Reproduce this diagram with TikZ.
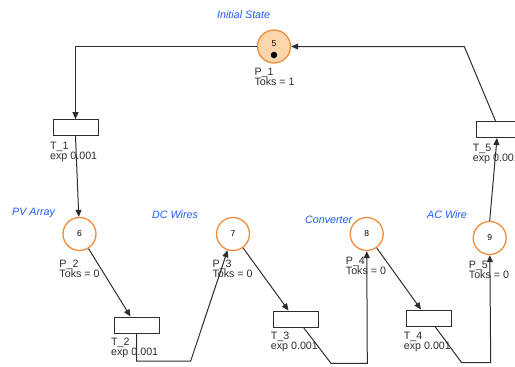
\documentclass[tikz,border=0pt]{standalone}
\usepackage{fontspec}
\setmainfont{Liberation Sans}
\usetikzlibrary{
  arrows.meta,
  positioning
}
\definecolor{placeorange}{RGB}{240,140,60}
\definecolor{tokfill}{RGB}{252,214,170}
\definecolor{noteblue}{RGB}{30,90,255}
\definecolor{arcgray}{RGB}{45,45,45}
\tikzset{
  place/.style={circle,draw=placeorange,line width=1.3pt,fill=white,
    minimum size=33pt,inner sep=0pt,font=\fontsize{8.5}{9}\selectfont},
  marked/.style={place,fill=tokfill},
  trans/.style={rectangle,draw=arcgray,line width=1pt,fill=white,
    minimum width=45pt,minimum height=16pt,inner sep=0pt},
  info/.style={anchor=north west,align=left,inner sep=0pt,
    font=\fontsize{10.7}{10}\selectfont,text=arcgray},
  note/.style={anchor=west,inner sep=0pt,
    font=\fontsize{10.7}{12}\selectfont\itshape,text=noteblue},
  arc/.style={-{Triangle[length=7pt,width=6pt]},line width=1pt,draw=arcgray},
  token/.style={circle,fill=black,minimum size=6.5pt,inner sep=0pt},
  num/.style={inner sep=0pt,font=\fontsize{8.5}{9}\selectfont}
}
\begin{document}
\begin{tikzpicture}[x=1pt,y=-1pt]
  \useasboundingbox (0,0) rectangle (515,367);
  \clip (0,0) rectangle (515,367);
  % places
  \node[marked] (p1) at (274,46.5) {};
  \node[num] (n1) at ([yshift=3pt]p1.center) {5};
  \node[token] (tok) at ([yshift=-8.5pt]p1.center) {};
  \node[place] (p2) at (79.5,234) {6};
  \node[place] (p3) at (233,234) {7};
  \node[place] (p4) at (366.7,234) {8};
  \node[place] (p5) at (489.7,238) {9};
  % transitions
  \node[trans] (t1) at (75.5,127.7) {};
  \node[trans] (t2) at (136.5,325) {};
  \node[trans] (t3) at (295.5,319) {};
  \node[trans] (t4) at (429,318) {};
  \node[trans] (t5) at (498.5,129.5) {};
  % notes
  \node[note] (s1) at (217,15) {Initial State};
  \node[note] (s2) at (12,213) {PV Array};
  \node[note] (s3) at (152,215) {DC Wires};
  \node[note] (s4) at (305,220) {Converter};
  \node[note] (s5) at (427,215) {AC Wire};
  % place and transition info
  \node[info] (ip1) at (254.3,68) {P\_1\\Toks = 1};
  \node[info] (ip2) at (59.3,260) {P\_2\\Toks = 0};
  \node[info] (ip3) at (212.3,260) {P\_3\\Toks = 0};
  \node[info] (ip4) at (345.7,257) {P\_4\\Toks = 0};
  \node[info] (ip5) at (468.7,261) {P\_5\\Toks = 0};
  \node[info] (it1) at (50,142) {T\_1\\exp 0.001};
  \node[info] (it2) at (111,338) {T\_2\\exp 0.001};
  \node[info] (it3) at (270.7,332) {T\_3\\exp 0.001};
  \node[info] (it4) at (403.7,332) {T\_4\\exp 0.001};
  \node[info] (it5) at (472.7,144) {T\_5\\exp 0.001};
  % bend points
  \coordinate (k2a) at (136.5,361);
  \coordinate (k2b) at (190.7,361);
  \coordinate (k3a) at (331,363.3);
  \coordinate (k3b) at (367.3,363.3);
  \coordinate (k4a) at (461.7,362.7);
  \coordinate (k4b) at (490.7,362.7);
  \coordinate (k5) at (464.3,46.5);
  % arcs
  \draw[arc] (p1.west) -| (t1.north);
  \draw[arc] (t1.south) -- (p2);
  \draw[arc] (p2) -- ([xshift=-6pt]t2.north);
  \draw[arc] (t2.south) -- (k2a) -- (k2b) -- (p3);
  \draw[arc] (p3) -- ([xshift=-7pt]t3.north);
  \draw[arc] ([xshift=8pt]t3.south) -- (k3a) -- (k3b) -- (p4);
  \draw[arc] (p4) -- ([xshift=-8pt]t4.north);
  \draw[arc] ([xshift=6pt]t4.south) -- (k4a) -- (k4b) -- (p5);
  \draw[arc] (p5.north) -- ([xshift=-1.5pt]t5.south);
  \draw[arc] ([xshift=-3pt]t5.north) -- (k5) -- (p1);
\end{tikzpicture}
\end{document}
